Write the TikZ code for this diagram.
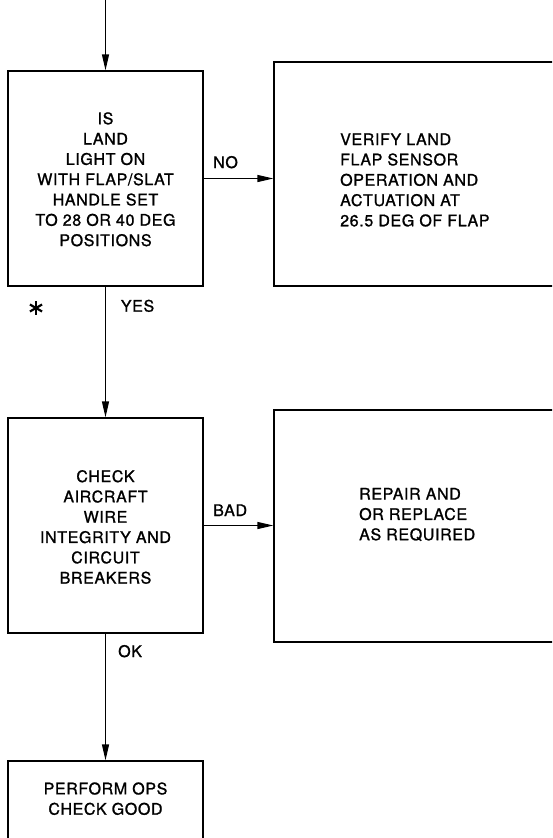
\documentclass[tikz,border=0pt]{standalone}
\usepackage{fontspec}
\setmainfont{TeX Gyre Heros}[LetterSpace=4,FakeBold=1.2]
\usetikzlibrary{arrows.meta}
\begin{document}
\begin{tikzpicture}[x=1pt,y=-1pt,
  box/.style={draw,line width=1.3pt,inner sep=0pt},
  txt/.style={font=\fontsize{16}{20.3}\selectfont,inner sep=0pt},
  lbl/.style={font=\fontsize{16}{20}\selectfont,inner sep=0pt,anchor=base west},
  flow/.style={line width=1.3pt,-{Triangle[length=16pt,width=7pt]}}]
  % page
  \fill[white] (0,0) rectangle (552,838);
  \useasboundingbox (0,0) rectangle (552,838);
  \clip (0,0) rectangle (552,838);

  % boxes
  \node[box,minimum width=195pt,minimum height=215pt] (b1) at (105.5,178.5) {};
  \node[box,minimum width=326pt,minimum height=224pt] (b2) at (437,174) {};
  \node[box,minimum width=195pt,minimum height=215pt] (b3) at (105.5,525.5) {};
  \node[box,minimum width=326pt,minimum height=232pt] (b4) at (437,526) {};
  \node[box,minimum width=195pt,minimum height=140pt] (b5) at (105.5,831) {};

  % box texts
  \node[txt,align=center] (t1) at (105.5,179.3)
    {IS\\LAND\\LIGHT ON\\WITH FLAP/SLAT\\HANDLE SET\\TO 28 OR 40 DEG\\POSITIONS};
  \node[txt,align=left,anchor=west] (t2) at (340,180)
    {VERIFY LAND\\FLAP SENSOR\\OPERATION AND\\ACTUATION AT\\26.5 DEG OF FLAP};
  \node[txt,align=center] (t3) at (105.5,527)
    {CHECK\\AIRCRAFT\\WIRE\\INTEGRITY AND\\CIRCUIT\\BREAKERS};
  \node[txt,align=left,anchor=west] (t4) at (359,514.5)
    {REPAIR AND\\OR REPLACE\\AS REQUIRED};
  \node[txt,align=center] (t5) at (105.5,798.7)
    {PERFORM OPS\\CHECK GOOD};

  % connectors
  \coordinate (entry) at (105.5,-2);
  \draw[flow] (entry) -- (b1.north);
  \draw[flow] (b1.east) -- (b1.east -| b2.west);
  \draw[flow] (b1.south) -- (b3.north);
  \draw[flow] (b3.east) -- (b3.east -| b4.west);
  \draw[flow] (b3.south) -- (b5.north);

  % connector labels
  \node[lbl] (no) at (213,168) {NO};
  \node[lbl] (yes) at (120.7,311.7) {YES};
  \node[lbl] (bad) at (213,516) {BAD};
  \node[lbl] (ok) at (118,657) {OK};

  % asterisk mark
  \coordinate (star) at (36,308);
  \draw[line width=2.2pt] (star) ++(0,-7) -- ++(0,14);
  \draw[line width=2.2pt] (star) ++(-6.06,-3.5) -- ++(12.12,7);
  \draw[line width=2.2pt] (star) ++(-6.06,3.5) -- ++(12.12,-7);
\end{tikzpicture}
\end{document}
